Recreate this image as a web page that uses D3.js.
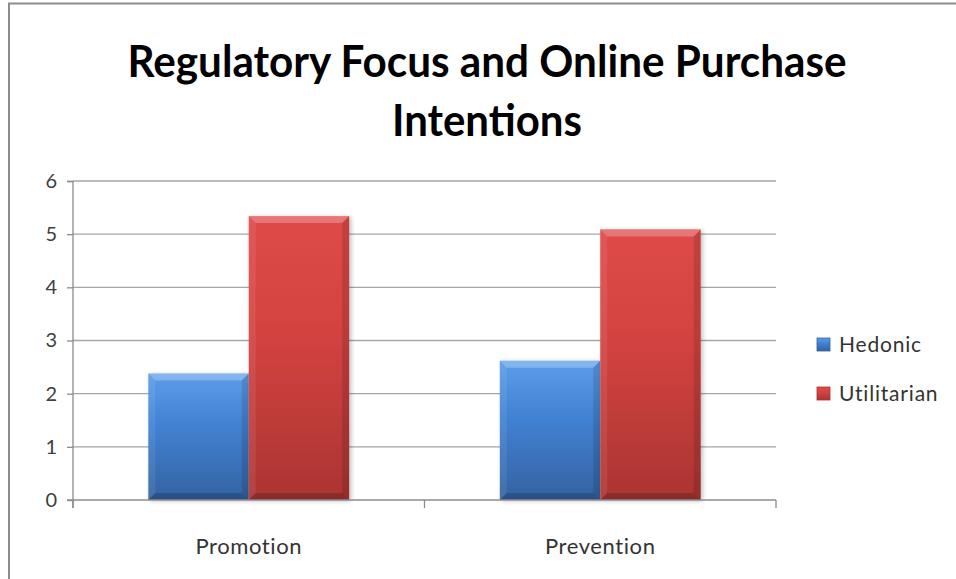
<!DOCTYPE html>
<html>
<head>
<meta charset="utf-8">
<script src="https://cdn.jsdelivr.net/npm/d3@7/dist/d3.min.js"></script>
<style>
  body { margin: 0; background: #fff; }
  svg { display: block; }
</style>
</head>
<body>
<div class="graph"></div>
<script>
// values
const categories = ["Promotion", "Prevention"];
const seriesNames = ["Hedonic", "Utilitarian"];
const hedonic = [2.38, 2.62];
const utilitarian = [5.34, 5.09];
const yTicks = [0, 1, 2, 3, 4, 5, 6];
const titleLines = ["Regulatory Focus and Online Purchase", "Intentions"];

const palette = {
  Hedonic: { top: "#5d9de8", mid: "#4282d3", bottom: "#3462a2" },
  Utilitarian: { top: "#de4a48", mid: "#d44341", bottom: "#ab3432" }
};

const W = 956, H = 579;
const svg = d3.select(".graph").append("svg").attr("width", W).attr("height", H);
const font = "Lato, 'Open Sans', sans-serif";

// outer chart frame (cut off on the right and bottom)
svg.append("path")
  .attr("d", "M9," + H + " V3.5 H" + W)
  .attr("fill", "none").attr("stroke", "#8c8c8c").attr("stroke-width", 2);

// title
svg.append("text").attr("x", 487).attr("y", 77)
  .attr("text-anchor", "middle")
  .style("font-family", font).style("font-weight", "bold").style("font-size", "44px")
  .attr("textLength", 719).attr("lengthAdjust", "spacingAndGlyphs")
  .text(titleLines[0]);
svg.append("text").attr("x", 487).attr("y", 136)
  .attr("text-anchor", "middle")
  .style("font-family", font).style("font-weight", "bold").style("font-size", "44px")
  .attr("textLength", 190).attr("lengthAdjust", "spacingAndGlyphs")
  .text(titleLines[1]);

const x0 = d3.scaleBand().domain(categories).range([73, 776]);
const bw = x0.bandwidth();
// gap width 150% -> bars fill 2 / 3.5 of the band
const x1 = d3.scaleBand().domain(seriesNames)
  .range([bw * 0.75 / 3.5, bw * 2.75 / 3.5]);
const y = d3.scaleLinear().domain([0, 6]).range([500, 181]);

// gridlines
svg.append("g").selectAll("line").data(yTicks.filter(d => d > 0)).join("line")
  .attr("x1", 73).attr("x2", 776)
  .attr("y1", d => y(d)).attr("y2", d => y(d))
  .attr("stroke", "#a6a6a6").attr("stroke-width", 1.3);

// y axis
const yAxis = svg.append("g").attr("transform", "translate(73,0)")
  .call(d3.axisLeft(y).tickValues(yTicks).tickSize(6).tickPadding(10).tickFormat(d3.format("d")));
yAxis.select(".domain").attr("stroke", "#8c8c8c").attr("stroke-width", 1.3)
  .attr("d", "M-6,181.5H0V508");
yAxis.selectAll(".tick line").attr("stroke", "#8c8c8c").attr("stroke-width", 1.3);
yAxis.selectAll(".tick text").style("font-family", font).style("font-size", "20px").attr("fill", "#404040");

// gradients
const defs = svg.append("defs");
seriesNames.forEach(s => {
  const g = defs.append("linearGradient").attr("id", "grad-" + s)
    .attr("x1", 0).attr("y1", 0).attr("x2", 0).attr("y2", 1);
  g.append("stop").attr("offset", "0%").attr("stop-color", palette[s].top);
  g.append("stop").attr("offset", "40%").attr("stop-color", palette[s].mid);
  g.append("stop").attr("offset", "100%").attr("stop-color", palette[s].bottom);
});
const shadow = defs.append("filter").attr("id", "shadow")
  .attr("x", "-10%").attr("y", "-10%").attr("width", "130%").attr("height", "130%");
shadow.append("feDropShadow").attr("dx", 2).attr("dy", 1).attr("stdDeviation", 2)
  .attr("flood-color", "#000").attr("flood-opacity", 0.25);

const rows = [];
categories.forEach((c, i) => {
  rows.push({ cat: c, series: "Hedonic", value: hedonic[i] });
  rows.push({ cat: c, series: "Utilitarian", value: utilitarian[i] });
});

// bars with a bevel look
const bars = svg.append("g").selectAll("g").data(rows).join("g")
  .attr("transform", d => "translate(" + (x0(d.cat) + x1(d.series)) + "," + y(d.value) + ")")
  .attr("filter", "url(#shadow)");
const b = 7;
bars.each(function (d) {
  const g = d3.select(this);
  const w = x1.bandwidth(), h = y(0) - y(d.value);
  g.append("rect").attr("width", w).attr("height", h).attr("fill", "url(#grad-" + d.series + ")");
  g.append("polygon").attr("points", [[0, 0], [w, 0], [w - b, b], [b, b]].join(" "))
    .attr("fill", "#fff").attr("opacity", 0.25);
  g.append("polygon").attr("points", [[0, 0], [b, b], [b, h - b], [0, h]].join(" "))
    .attr("fill", "#fff").attr("opacity", 0.08);
  g.append("polygon").attr("points", [[w, 0], [w, h], [w - b, h - b], [w - b, b]].join(" "))
    .attr("fill", "#000").attr("opacity", 0.12);
  g.append("polygon").attr("points", [[0, h], [w, h], [w - b, h - b], [b, h - b]].join(" "))
    .attr("fill", "#000").attr("opacity", 0.18);
});

// x axis
const xAxis = svg.append("g").attr("transform", "translate(0,500)")
  .call(d3.axisBottom(x0).tickSize(0).tickPadding(38));
xAxis.select(".domain").attr("stroke", "#8c8c8c").attr("stroke-width", 1.3).attr("d", "M67,0H776");
xAxis.selectAll(".tick text").style("font-family", font).style("font-size", "22px")
  .style("letter-spacing", "0.6px").attr("fill", "#333");
svg.append("g").selectAll("line").data(categories.map(c => x0(c)).concat([776])).join("line")
  .attr("x1", d => d).attr("x2", d => d).attr("y1", 500).attr("y2", 508)
  .attr("stroke", "#8c8c8c").attr("stroke-width", 1.3);

// legend
const legend = svg.append("g").selectAll("g").data(seriesNames).join("g")
  .attr("transform", (d, i) => "translate(817," + (338 + i * 49) + ")");
legend.append("rect").attr("width", 13).attr("height", 13)
  .attr("fill", d => "url(#grad-" + d + ")").attr("stroke", d => palette[d].bottom).attr("stroke-width", 0.8);
legend.append("text").attr("x", 22).attr("y", 14)
  .style("font-family", font).style("font-size", "21px").style("letter-spacing", "0.8px")
  .attr("fill", "#333")
  .text(d => d);
</script>
</body>
</html>
